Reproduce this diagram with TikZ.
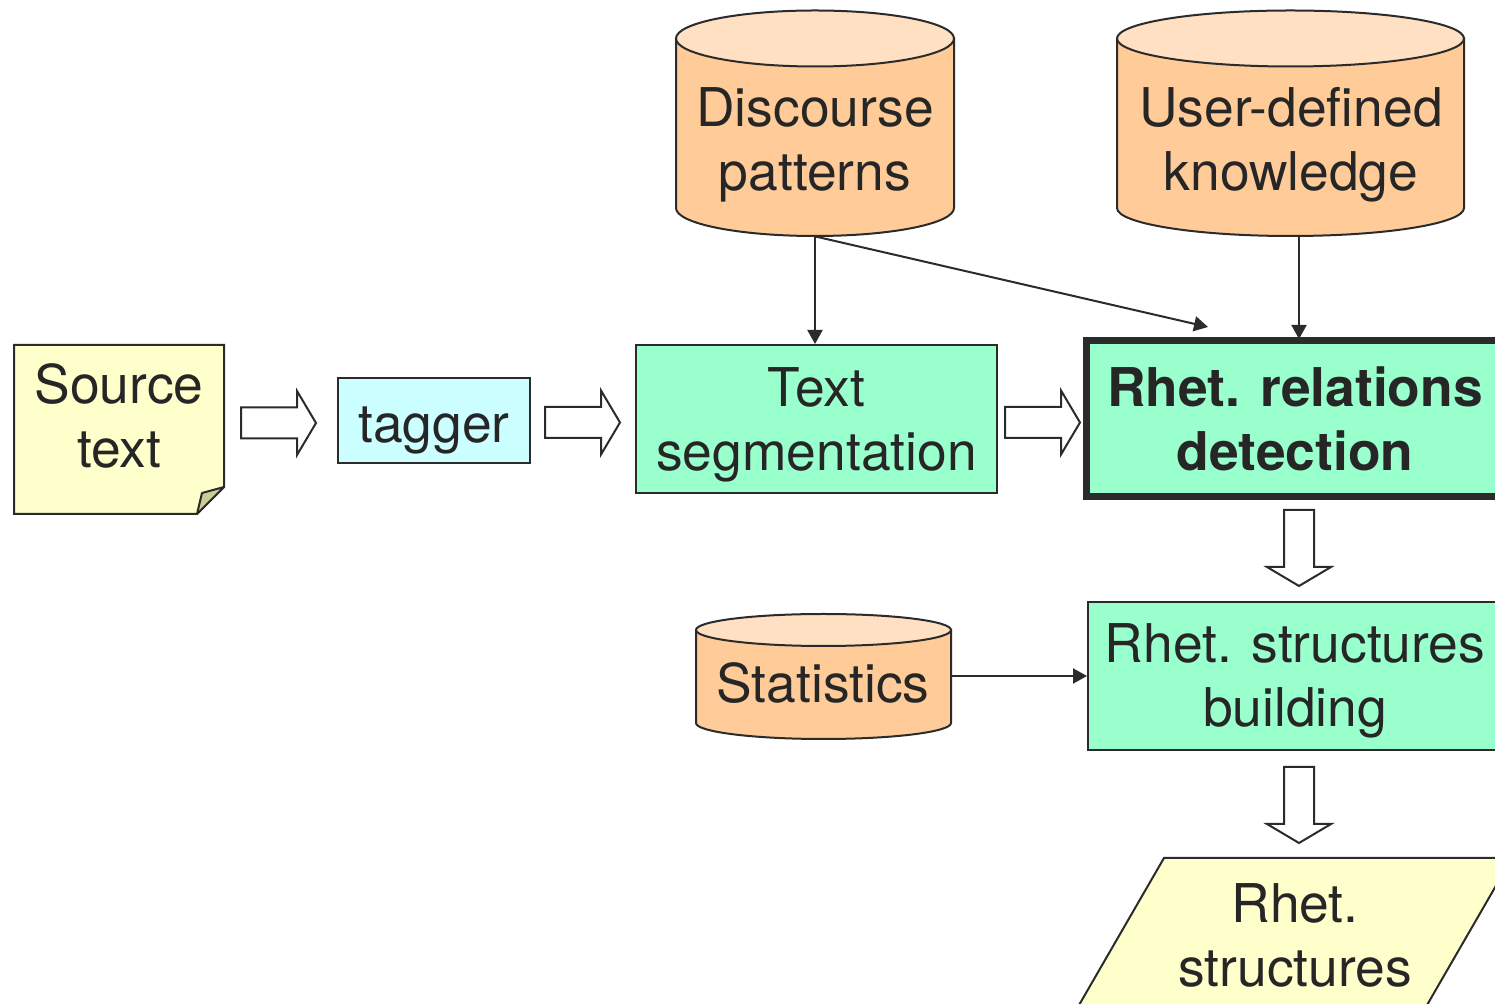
\documentclass[tikz,border=0pt]{standalone}
\usepackage{fontspec}
\setmainfont{TeX Gyre Heros}
\usetikzlibrary{arrows.meta}
\definecolor{ink}{HTML}{262626}
\definecolor{edge}{HTML}{2B2B2B}
\definecolor{noteY}{HTML}{FFFFCC}
\definecolor{foldY}{HTML}{CCCC99}
\definecolor{cyanbox}{HTML}{CCFFFF}
\definecolor{greenbox}{HTML}{99FFCC}
\definecolor{cylbody}{HTML}{FFCC99}
\definecolor{cyltop}{HTML}{FFE0C2}
\newcommand{\mycyl}[5]{%
  \pgfmathsetmacro\myrx{(#2-#1)/2}%
  \filldraw[cylside] (#1,#3) -- (#1,#4) arc[start angle=180,end angle=0,x radius=\myrx,y radius=#5] -- (#2,#3) -- cycle;
  \filldraw[cylcap] ({(#1+#2)/2},#3) ellipse[x radius=\myrx,y radius=#5];
}
\begin{document}
\begin{tikzpicture}[x=0.5pt,y=-0.5pt,
  txt/.style={font=\fontsize{26.7pt}{32pt}\selectfont, text=ink, align=center, inner sep=0pt},
  boldtxt/.style={font=\fontsize{26.7pt}{32pt}\selectfont\bfseries, text=ink, align=center, inner sep=0pt},
  ghost/.style={inner sep=0pt, draw=none},
  box/.style={draw=edge, line width=1pt, rectangle, inner sep=0pt},
  conn/.style={draw=edge, line width=1pt, -{Triangle[length=7pt,width=7.5pt]}},
  blockarr/.style={draw=edge, fill=white, line width=1pt, line join=miter},
  cylside/.style={fill=cylbody, draw=edge, line width=1pt},
  cylcap/.style={fill=cyltop, draw=edge, line width=1pt},
  rblock/.pic={\path[blockarr] (0,-15.5) -- (56,-15.5) -- (56,-32) -- (75,0) -- (56,32) -- (56,15.5) -- (0,15.5) -- cycle;},
  dblock/.pic={\path[blockarr] (-15,0) -- (-15,57) -- (-32,57) -- (0,76) -- (32,57) -- (15,57) -- (15,0) -- cycle;},
]
\path[use as bounding box, clip] (0,0) rectangle (1495,1004);
\fill[white] (0,0) rectangle (1495,1004);

% Source text note
\filldraw[fill=noteY, draw=edge, line width=1pt, line join=miter]
  (14,345) -- (224,345) -- (224,487) -- (197,514) -- (14,514) -- cycle;
\filldraw[fill=foldY, draw=edge, line width=1pt, line join=round]
  (197,514) -- (224,487) -- (202,493) -- cycle;
\node[txt] (src) at (119,416) {Source\\text};

% tagger
\node[box, fill=cyanbox, minimum width=96pt, minimum height=42.5pt] (tag) at (434,420.5) {};
\node[txt] (tagtxt) at (434,430) {tagger};

% Text segmentation
\node[box, fill=greenbox, minimum width=180.5pt, minimum height=74pt] (seg) at (816.5,419) {};
\node[txt] (segtxt) at (816.5,425) {Text\\segmentation};

% Rhet. relations detection
\node[box, line width=3.5pt, fill=greenbox, minimum width=208.5pt, minimum height=77.75pt] (rrd) at (1295,418.75) {};
\node[boldtxt] (rrdtxt) at (1295,419) {Rhet. relations\\detection};

% Rhet. structures building
\node[box, fill=greenbox, minimum width=207pt, minimum height=74pt] (build) at (1295,676) {};
\node[txt] (buildtxt) at (1295,681) {Rhet. structures\\building};

% Output parallelogram
\filldraw[fill=noteY, draw=edge, line width=1pt]
  (1164,858) -- (1512,858) -- (1423,1012) -- (1075,1012) -- cycle;
\node[txt] (out) at (1295,935) {Rhet.\\structures};

% Cylinders
\mycyl{676}{954}{38.5}{208}{28}
\node[ghost, minimum width=139pt, minimum height=113pt] (disc) at (815,123) {};
\node[txt] (disctxt) at (815,145) {Discourse\\patterns};

\mycyl{1117}{1464}{38.5}{208}{28}
\node[ghost, minimum width=173.5pt, minimum height=113pt] (user) at (1290.5,123) {};
\node[txt] (usertxt) at (1291,145) {User-defined\\knowledge};

\mycyl{696}{951}{630}{723}{16}
\node[ghost, minimum width=127.5pt, minimum height=62pt] (stat) at (823.5,676) {};
\node[txt] (stattxt) at (823,683) {Statistics};

% Block arrows
\pic at (241,423) {rblock};
\pic at (545,422.5) {rblock};
\pic at (1005,422.5) {rblock};
\pic at (1299,510) {dblock};
\pic at (1299,767) {dblock};

% Connectors
\coordinate (diagend) at (1208,327);
\draw[conn] (disc.south) -- (disc.south |- seg.north);
\draw[conn] (disc.south) -- (diagend);
\draw[conn] (1299,236) -- (1299,339);
\draw[conn] (stat.east) -- (build.west);
\end{tikzpicture}
\end{document}
